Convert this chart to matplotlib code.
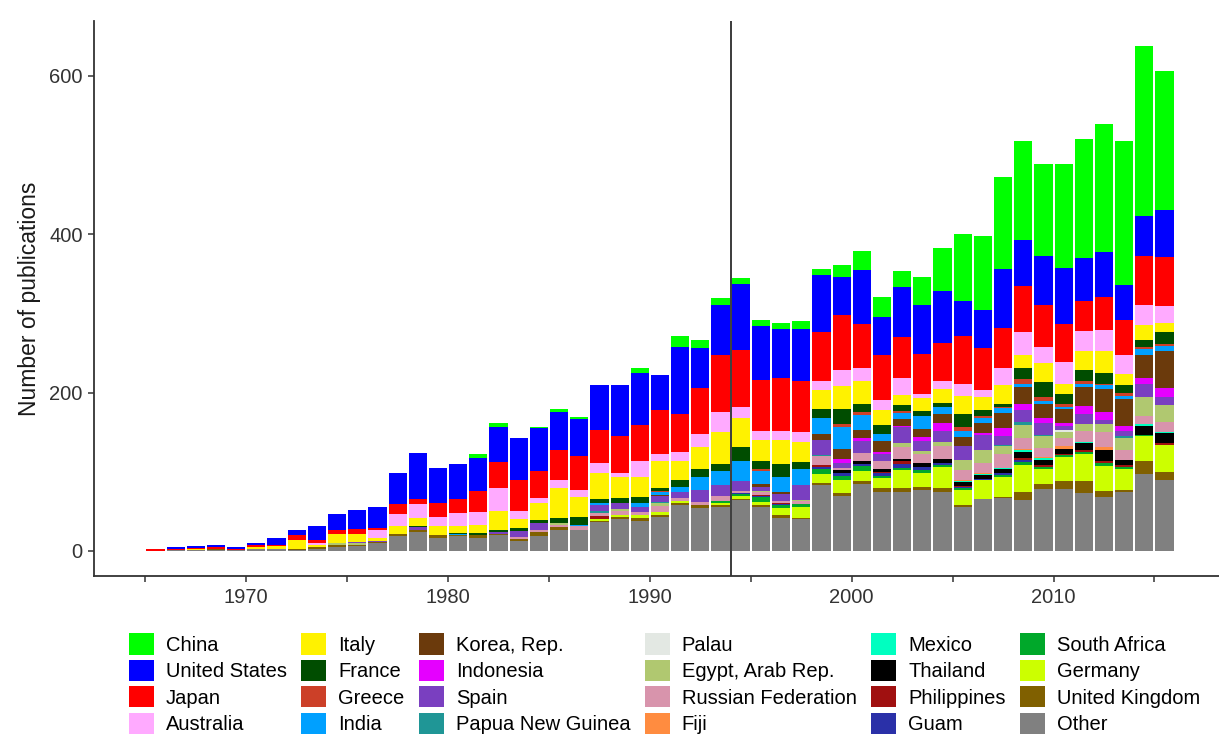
import matplotlib
matplotlib.use("Agg")
import matplotlib.pyplot as plt
from matplotlib.patches import Patch

plt.rcParams['font.family'] = ['Liberation Sans', 'DejaVu Sans']

years = list(range(1965, 2016))

# publications per year, one list per country (1965 ... 2015)
other = [0, 1, 1, 1, 1, 2, 3, 1, 3, 5,
         6, 10, 19, 24, 17, 19, 16, 20, 12, 19,
         27, 27, 36, 40, 38, 43, 58, 54, 56, 64,
         55, 41, 40, 83, 69, 84, 74, 74, 77, 75,
         56, 65, 67, 64, 78, 78, 73, 68, 74, 97,
         90]
uk = [0, 0, 0, 1, 0, 1, 0, 2, 2, 3,
      2, 1, 3, 3, 3, 1, 4, 2, 3, 5,
      3, 0, 2, 3, 3, 3, 2, 4, 2, 2,
      3, 4, 2, 3, 4, 4, 5, 5, 4, 4,
      2, 1, 1, 11, 7, 10, 15, 8, 3, 16,
      10]
germany = [0, 0, 0, 0, 0, 0, 0, 0, 0, 0,
           0, 0, 0, 0, 0, 0, 0, 0, 0, 0,
           0, 0, 2, 2, 4, 3, 3, 0, 2, 3,
           4, 9, 13, 11, 16, 13, 13, 23, 18, 27,
           19, 23, 26, 34, 18, 31, 34, 31, 26, 32,
           34]
south_africa = [0, 0, 0, 0, 0, 0, 0, 0, 0, 0,
                0, 0, 0, 0, 0, 0, 0, 0, 0, 0,
                0, 0, 0, 0, 0, 0, 0, 0, 3, 3,
                6, 4, 4, 6, 6, 6, 3, 3, 3, 3,
                2, 0, 2, 3, 3, 2, 3, 4, 3, 2,
                0]
guam = [0, 0, 0, 0, 0, 0, 0, 0, 0, 0,
        0, 0, 0, 0, 0, 0, 0, 0, 0, 0,
        0, 0, 0, 0, 0, 0, 0, 0, 0, 1,
        1, 1, 0, 3, 4, 3, 4, 5, 4, 2,
        2, 2, 2, 3, 0, 0, 0, 0, 0, 0,
        0]
philippines = [0, 0, 0, 0, 0, 0, 0, 0, 0, 0,
               0, 0, 0, 0, 0, 0, 0, 0, 0, 0,
               0, 0, 4, 0, 0, 0, 0, 0, 0, 0,
               2, 2, 0, 2, 0, 0, 1, 3, 0, 0,
               1, 0, 0, 3, 2, 1, 2, 2, 2, 0,
               2]
thailand = [0, 0, 0, 0, 0, 0, 0, 0, 0, 0,
            0, 0, 0, 0, 0, 0, 0, 0, 0, 0,
            0, 0, 0, 0, 0, 0, 0, 0, 0, 0,
            0, 0, 0, 1, 3, 4, 3, 3, 5, 5,
            5, 5, 6, 7, 7, 7, 9, 15, 7, 11,
            13]
mexico = [0, 0, 0, 0, 0, 0, 0, 0, 0, 0,
          0, 0, 0, 0, 0, 0, 0, 0, 0, 0,
          0, 0, 0, 0, 0, 0, 0, 0, 0, 0,
          0, 0, 0, 0, 0, 0, 0, 0, 0, 0,
          1, 1, 1, 2, 2, 0, 1, 0, 0, 2,
          1]
fiji = [0, 0, 0, 0, 0, 0, 0, 0, 0, 0,
        0, 0, 0, 0, 0, 0, 0, 0, 0, 0,
        0, 0, 0, 0, 0, 0, 0, 0, 0, 0,
        0, 0, 0, 0, 0, 0, 0, 0, 0, 0,
        1, 1, 0, 2, 2, 3, 0, 3, 0, 0,
        0]
russia = [0, 0, 0, 0, 0, 0, 0, 0, 0, 0,
          0, 0, 0, 0, 0, 0, 0, 0, 3, 3,
          3, 4, 4, 6, 4, 8, 4, 4, 7, 3,
          4, 2, 4, 11, 3, 10, 10, 15, 11, 16,
          13, 13, 17, 13, 11, 11, 15, 19, 13, 10,
          13]
egypt = [0, 0, 0, 0, 0, 0, 0, 0, 0, 2,
         2, 0, 0, 0, 0, 0, 0, 0, 0, 0,
         2, 0, 0, 2, 0, 3, 0, 0, 0, 0,
         1, 0, 1, 0, 0, 0, 0, 5, 4, 5,
         13, 17, 10, 17, 15, 7, 8, 10, 15, 24,
         21]
palau = [0, 0, 0, 0, 0, 0, 0, 0, 0, 0,
         0, 0, 0, 0, 0, 0, 0, 0, 0, 0,
         0, 0, 0, 0, 0, 0, 0, 0, 0, 0,
         0, 0, 0, 0, 0, 0, 0, 0, 0, 0,
         0, 0, 0, 0, 0, 3, 0, 0, 0, 0,
         0]
png = [0, 0, 0, 0, 0, 0, 0, 0, 0, 0,
       0, 0, 0, 0, 0, 0, 0, 0, 0, 0,
       0, 0, 2, 0, 0, 2, 0, 0, 0, 0,
       0, 0, 0, 1, 0, 0, 0, 0, 0, 0,
       0, 0, 2, 4, 2, 0, 0, 0, 2, 0,
       0]
spain = [0, 0, 0, 0, 0, 0, 0, 0, 0, 0,
         1, 2, 0, 3, 0, 0, 0, 2, 7, 8,
         0, 0, 8, 8, 7, 7, 8, 15, 13, 12,
         5, 9, 19, 19, 6, 15, 9, 20, 13, 15,
         18, 19, 11, 15, 14, 5, 13, 5, 6, 17,
         11]
indonesia = [0, 0, 0, 0, 0, 0, 0, 0, 0, 0,
             0, 0, 0, 0, 0, 0, 0, 0, 0, 0,
             0, 0, 0, 0, 0, 0, 0, 0, 0, 0,
             0, 0, 0, 0, 5, 3, 3, 2, 5, 10,
             0, 2, 10, 8, 7, 4, 10, 10, 7, 7,
             11]
korea = [0, 0, 0, 0, 0, 0, 0, 0, 0, 0,
         0, 0, 0, 0, 0, 0, 0, 0, 0, 0,
         0, 0, 0, 0, 0, 2, 0, 0, 0, 0,
         3, 2, 0, 8, 13, 11, 14, 8, 10, 11,
         11, 12, 19, 21, 17, 17, 24, 29, 34, 30,
         46]
india = [0, 0, 0, 0, 0, 0, 0, 0, 0, 0,
         0, 0, 0, 0, 0, 2, 0, 0, 0, 0,
         0, 2, 2, 0, 4, 3, 6, 17, 18, 25,
         17, 19, 20, 20, 28, 19, 9, 8, 16, 9,
         8, 7, 6, 4, 4, 3, 4, 5, 4, 7,
         7]
greece = [0, 0, 0, 0, 0, 0, 0, 0, 0, 0,
          0, 0, 0, 0, 0, 0, 0, 0, 0, 0,
          0, 0, 0, 0, 0, 2, 0, 0, 0, 1,
          3, 0, 1, 0, 3, 3, 0, 3, 0, 0,
          4, 2, 2, 6, 6, 3, 3, 2, 3, 3,
          2]
france = [0, 0, 0, 0, 0, 0, 0, 0, 0, 0,
          0, 0, 0, 2, 0, 1, 3, 3, 4, 4,
          7, 10, 6, 6, 8, 3, 8, 10, 9, 17,
          10, 17, 8, 11, 19, 11, 11, 7, 7, 5,
          17, 8, 3, 14, 18, 13, 15, 14, 10, 8,
          16]
italy = [0, 0, 1, 1, 0, 2, 3, 11, 3, 11,
         11, 3, 10, 9, 12, 8, 10, 24, 11, 22,
         37, 25, 32, 27, 26, 35, 25, 27, 40, 37,
         26, 30, 26, 24, 29, 28, 19, 13, 16, 17,
         23, 17, 24, 17, 24, 13, 23, 27, 14, 19,
         11]
australia = [0, 0, 0, 0, 0, 0, 0, 0, 2, 0,
             0, 10, 15, 18, 11, 17, 16, 28, 11, 6,
             10, 9, 13, 5, 20, 8, 11, 17, 25, 14,
             12, 12, 12, 12, 21, 17, 12, 21, 5, 10,
             15, 8, 22, 28, 20, 28, 26, 27, 25, 25,
             21]
japan = [2, 2, 2, 2, 2, 2, 2, 6, 4, 5,
         6, 3, 12, 7, 18, 18, 27, 33, 39, 34,
         38, 43, 42, 46, 45, 56, 48, 58, 72, 72,
         64, 66, 65, 62, 69, 55, 58, 52, 51, 48,
         61, 53, 50, 59, 53, 48, 37, 42, 43, 63,
         62]
usa = [0, 2, 2, 3, 2, 3, 8, 6, 17, 21,
       24, 26, 39, 58, 44, 44, 42, 45, 52, 54,
       49, 46, 56, 65, 66, 44, 84, 50, 63, 83,
       68, 62, 65, 72, 48, 69, 47, 63, 61, 66,
       44, 48, 75, 58, 62, 70, 55, 57, 45, 50,
       60]
china = [0, 0, 0, 0, 0, 0, 0, 0, 0, 0,
         0, 0, 0, 0, 0, 0, 5, 4, 0, 1,
         3, 3, 0, 0, 6, 0, 15, 10, 9, 8,
         8, 8, 10, 7, 15, 24, 25, 21, 36, 54,
         84, 93, 116, 124, 116, 131, 150, 161, 182, 214,
         175]

# bottom to top stacking order
stack = [
    ('Other', other, '#808080'),
    ('United Kingdom', uk, '#806000'),
    ('Germany', germany, '#ccff00'),
    ('South Africa', south_africa, '#00a82a'),
    ('Guam', guam, '#2a30a8'),
    ('Philippines', philippines, '#a01010'),
    ('Thailand', thailand, '#000000'),
    ('Mexico', mexico, '#00ffc0'),
    ('Fiji', fiji, '#ff8c40'),
    ('Russian Federation', russia, '#d894ac'),
    ('Egypt, Arab Rep.', egypt, '#b0c870'),
    ('Palau', palau, '#e3e8e3'),
    ('Papua New Guinea', png, '#1f9696'),
    ('Spain', spain, '#7a3fc0'),
    ('Indonesia', indonesia, '#e500ff'),
    ('Korea, Rep.', korea, '#6b3a0c'),
    ('India', india, '#00a0ff'),
    ('Greece', greece, '#cc4028'),
    ('France', france, '#004d00'),
    ('Italy', italy, '#fff200'),
    ('Australia', australia, '#ffaaff'),
    ('Japan', japan, '#ff0000'),
    ('United States', usa, '#0000ff'),
    ('China', china, '#00ff00'),
]

fig = plt.figure(figsize=(12.19, 7.38), dpi=100)
ax = fig.add_axes([0.0774, 0.2195, 0.9226, 0.752])

xpos = [y + 0.5 for y in years]
bottom = [0] * len(years)
for name, vals, col in stack:
    ax.bar(xpos, vals, width=0.9, bottom=bottom, color=col, linewidth=0)
    bottom = [b + v for b, v in zip(bottom, vals)]

ax.axvline(1994, color='#1a1a1a', lw=1.2)

ax.set_xlim(1962.47, 2018.2)
ax.set_ylim(-31.6, 669)
ax.set_xticks(range(1965, 2016, 5))
ax.set_xticklabels([str(t) if t % 10 == 0 else '' for t in range(1965, 2016, 5)])
ax.set_yticks([0, 200, 400, 600])
for s in ['top', 'right']:
    ax.spines[s].set_visible(False)
for s in ['left', 'bottom']:
    ax.spines[s].set_color('#333333')
    ax.spines[s].set_linewidth(1.3)
ax.tick_params(axis='both', labelsize=14.5, colors='#333333', labelcolor='#333333',
               length=4.5, width=1.1, pad=4)
ax.set_ylabel('Number of publications', fontsize=16.5, color='#1a1a1a')
ax.yaxis.set_label_coords(-0.047, 0.5)

handles = [Patch(facecolor=col, edgecolor='none', label=name) for name, vals, col in stack[::-1]]
fig.legend(handles=handles, ncol=6, loc='upper left', bbox_to_anchor=(0.1055, 0.142),
           frameon=False, fontsize=14.5, handlelength=1.25, handleheight=1.25,
           handletextpad=0.6, columnspacing=0.7, labelspacing=0.25,
           borderpad=0, borderaxespad=0)

fig.savefig('out.png', dpi=100)
